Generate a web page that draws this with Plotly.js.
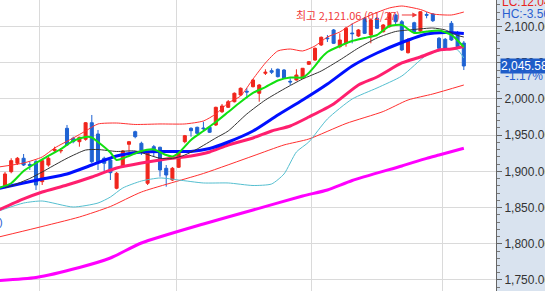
<!DOCTYPE html>
<html><head><meta charset="utf-8">
<script src="https://cdn.plot.ly/plotly-3.0.1.min.js"></script>
<style>html,body{margin:0;padding:0;background:#fff;overflow:hidden}#chart{width:545px;height:291px;}</style>
</head><body><div id="chart"></div>
<script>
// ---- candle data (index = trading day) ----
const openV  = [1879.8,1899.6,1911.2,1918.1,1909.5,1913.4,1885.8,1908.8,1928.6,1928.2,1959.5,1945.7,1941.0,1944.3,1967.2,1951.6,1918.1,1915.7,1876.7,1907.4,1937.4,1954.8,1938.8,1883.6,1934.1,1933.3,1904.3,1888.1,1905.7,1941.0,1959.5,1960.9,1959.9,1960.9,1964.1,1982.4,1988.5,1996.2,2005.5,2010.6,2017.0,2007.9,2035.5,2039.1,2041.0,2040.0,2024.4,2026.2,2028.6,2047.9,2053.8,2074.6,2084.2,2095.3,2072.2,2076.9,2091.1,2087.0,2111.4,2088.4,2111.4,2092.9,2099.8,2116.0,2106.7,2063.9,2105.3,2093.9,2116.7,2117.4,2083.8,2082.4,2104.5,2090.7,2077.3];
const highV  = [1899.2,1918.1,1919.9,1924.0,1913.4,1915.7,1915.7,1920.3,1934.1,1931.9,1964.1,1947.9,1947.9,1968.2,1977.9,1957.2,1920.3,1918.1,1899.2,1929.5,1942.0,1956.2,1941.0,1925.4,1936.5,1934.1,1908.8,1906.1,1929.5,1950.3,1960.9,1961.7,1968.6,1962.7,1989.3,1993.1,1998.6,2009.0,2015.9,2015.2,2027.6,2020.7,2041.0,2042.4,2042.1,2041.4,2028.6,2041.0,2042.8,2052.5,2071.1,2086.3,2088.4,2096.6,2090.7,2099.8,2104.5,2096.6,2113.2,2111.4,2113.2,2103.6,2120.1,2118.0,2109.1,2084.2,2106.7,2121.06,2120.0,2118.7,2085.6,2084.2,2107.7,2093.9,2080.1];
const lowV   = [1877.1,1897.4,1908.8,1907.4,1901.9,1874.3,1881.2,1906.5,1925.8,1925.0,1935.1,1938.8,1934.1,1942.4,1911.2,1901.9,1899.6,1888.1,1875.3,1904.7,1926.8,1945.7,1922.6,1881.2,1920.3,1892.7,1878.9,1886.7,1904.7,1938.8,1947.9,1951.6,1954.8,1953.0,1962.7,1980.6,1987.6,1995.2,2004.1,2000.9,2015.9,1996.2,2033.1,2034.5,2029.7,2027.6,2019.3,2025.5,2027.6,2046.9,2052.5,2073.2,2078.7,2075.9,2070.0,2072.2,2076.9,2085.6,2089.7,2076.9,2096.6,2091.8,2098.7,2102.2,2066.3,2062.8,2090.7,2092.5,2111.4,2106.3,2067.7,2069.0,2080.1,2071.1,2040.0];
const closeV = [1896.4,1914.8,1918.1,1908.8,1908.1,1881.2,1914.8,1918.1,1930.5,1929.1,1936.5,1941.0,1947.1,1967.2,1913.4,1913.4,1911.2,1898.2,1897.4,1928.2,1941.0,1947.9,1929.5,1925.0,1926.4,1901.9,1895.0,1904.3,1928.6,1949.3,1956.2,1952.6,1959.0,1954.0,1988.5,1990.3,1996.2,2007.9,2014.8,2009.6,2026.2,2019.3,2036.9,2036.9,2030.8,2028.6,2023.5,2033.1,2042.4,2051.5,2070.0,2085.2,2083.3,2076.9,2081.5,2097.6,2090.2,2095.3,2090.7,2109.1,2097.6,2102.2,2118.3,2106.7,2067.7,2081.5,2092.9,2120.5,2115.7,2108.1,2070.0,2070.0,2081.5,2072.2,2045.58];

// ---- indicator lines (index, value) ----
const ma5X = [-1,1,3,5,7,9,11,13,14,15,17,18,20,22,24,26,27,28,30,32,34,36,38,40,42,44,46,48,49,50,51,52,54,56,58,60,62,64,66,68,70,72,74];
const ma5Y = [1877.1,1883.6,1900.5,1911.6,1921.3,1930.9,1942.0,1947.5,1946.8,1940.6,1926.1,1915.7,1921.3,1928.2,1930.2,1922.6,1920.6,1925.4,1943.4,1955.8,1968.2,1982.0,1995.8,2008.3,2016.5,2025.5,2029.7,2029.7,2035.9,2045.6,2056.6,2064.9,2073.2,2080.1,2084.2,2088.4,2100.8,2102.2,2091.1,2093.2,2094.6,2088.4,2071.8];
const ma10X = [0,1,4,6,10,13,15,18,21,25,27,29,31,34,36,39,42,45,48,51,54,57,60,63,66,69,71,73,74];
const ma10Y = [1877.5,1879.8,1890.2,1899.2,1918.1,1929.5,1930.2,1927.5,1928.2,1918.1,1917.8,1922.6,1930.9,1946.1,1955.8,1979.3,1998.6,2013.8,2027.6,2038.6,2053.8,2070.4,2084.2,2093.2,2096.0,2098.0,2095.3,2087.7,2085.6];
const ma20X = [-1,3,6,10,14,18,22,26,30,33,36,40,44,48,52,56,60,64,68,71,74];
const ma20Y = [1876.4,1884.0,1889.5,1896.4,1908.8,1921.3,1926.8,1927.5,1927.5,1931.6,1940.6,1955.8,1977.9,1998.6,2020.7,2045.6,2063.5,2078.0,2089.7,2091.8,2090.4];
const ma60X = [-1,3,6,10,14,18,22,26,30,33,36,40,43,46,49,53,57,60,64,67,70,72,74];
const ma60Y = [1846.7,1861.9,1871.5,1881.2,1892.3,1904.7,1911.6,1917.1,1921.3,1926.8,1936.5,1946.1,1955.8,1962.7,1975.1,1993.1,2019.3,2030.4,2049.7,2058.0,2067.7,2069.0,2072.5];
const ma120X = [-1,5,12,17,22,32,40,45,49,55,61,65,69,74];
const ma120Y = [1809.4,1821.8,1837.0,1851.5,1871.5,1897.1,1921.3,1936.5,1944.7,1966.1,1982.7,1998.6,2006.9,2019.3];
const ma240X = [-1,5,12,17,22,32,40,48,52,56,64,68,70,74];
const ma240Y = [1749.3,1753.5,1767.3,1780.4,1801.1,1827.4,1846.7,1866.0,1874.3,1887.4,1907.5,1918.0,1922.6,1931.9];
const upperX = [-1,3,6,8,11,13,15,18,21,25,29,32,34,36,38,40,42,44,46,48,50,52,54,56,59,62,64,67,69,72,74];
const upperY = [1906.1,1911.6,1919.9,1932.3,1946.1,1955.8,1965.5,1966.8,1964.8,1965.5,1965.5,1969.6,1979.3,1994.5,2004.1,2027.6,2049.7,2066.3,2069.0,2066.3,2073.2,2085.6,2092.5,2103.6,2116.0,2125.7,2128.4,2123.6,2117.4,2116.0,2120.1];
const lowerX = [-1,3,6,11,15,17,19,22,25,28,32,36,40,43,45,47,49,52,56,60,64,68,70,72,73,74];
const lowerY = [1845.3,1856.3,1859.1,1850.8,1856.3,1864.6,1877.1,1886.7,1890.9,1888.1,1884.0,1884.0,1880.5,1882.6,1896.4,1926.8,1940.6,1972.4,2000.0,2015.2,2031.7,2060.7,2066.3,2069.0,2067.7,2056.6];

const monthGrid = [5.5,27.6,49.5,70.5];
const yTicks = [1750,1800,1850,1900,1950,2000,2050,2100];

const highLabel = '최고 2,121.06 (01/27)';
const lcLabel = 'LC:12.04';
const hcLabel = 'HC:-3.56';
const lastPriceLabel = '2,045.58';
const changeLabel = '-1.17%';
const sideLabel = '4)';

const xIdx = openV.map((_, i) => i);
const lastIdx = xIdx[xIdx.length - 1];
const lastClose = closeV[closeV.length - 1];
const highIdx = highV.indexOf(Math.max(...highV));

function line(x, y, color, width) {
  return {type:'scatter', mode:'lines', x:x, y:y, hoverinfo:'skip', showlegend:false,
          line:{color:color, width:width, shape:'spline', smoothing:0.6}};
}

const traces = [
  line(ma240X, ma240Y, '#ff00ff', 3),
  line(ma120X, ma120Y, '#ff3030', 1),
  line(lowerX, lowerY, '#55bfd0', 1),
  line(upperX, upperY, '#ff3030', 1),
  line(ma60X, ma60Y, '#ff1f6e', 3),
  line(ma20X, ma20Y, '#0010ff', 3),
  line(ma10X, ma10Y, '#333333', 1),
  line(ma5X, ma5Y, '#11e011', 2),
  {type:'candlestick', x:xIdx, open:openV, high:highV, low:lowV, close:closeV,
   showlegend:false, hoverinfo:'skip',
   increasing:{line:{color:'#f0251c', width:1}, fillcolor:'#f0251c'},
   decreasing:{line:{color:'#1f63d3', width:1}, fillcolor:'#1f63d3'}}
];

const W = 496, H = 291;
const layout = {
  width:545, height:291,
  margin:{l:0, r:49, t:0, b:0, pad:0},
  paper_bgcolor:'#d9e3ef',
  plot_bgcolor:'#ffffff',
  font:{family:'Liberation Sans, Noto Sans CJK KR, sans-serif', size:12, color:'#333'},
  showlegend:false,
  boxgap:0.3,
  xaxis:{range:[-0.806, 79.19], tickvals:monthGrid, showticklabels:false, ticks:'',
         showgrid:true, gridcolor:'#dadada', gridwidth:1, zeroline:false, showline:false,
         rangeslider:{visible:false}, fixedrange:true},
  yaxis:{side:'right', range:[1734.8, 2136.7], tickvals:yTicks, tickformat:',.2f',
         showgrid:true, gridcolor:'#dadada', gridwidth:1, zeroline:false,
         showline:true, linecolor:'#666', linewidth:1,
         ticks:'outside', ticklen:5, tickcolor:'#666',
         minor:{dtick:10, ticks:'outside', ticklen:3, tickcolor:'#777', showgrid:false},
         tickfont:{size:12, color:'#333'}, automargin:false, fixedrange:true},
  annotations:[
    {xref:'x', yref:'y', x:highIdx - 0.5, y:2116.0, text:highLabel, showarrow:true,
     ax:-69, ay:0, arrowhead:2, arrowsize:1, arrowwidth:1, arrowcolor:'#f03a3a', standoff:0,
     font:{family:'Noto Sans CJK KR, Liberation Sans', size:11, color:'#f03a3a'}},
    {xref:'paper', yref:'paper', x:500/W, y:1-2/H, xanchor:'left', yanchor:'middle', showarrow:false,
     text:lcLabel, font:{size:12, color:'#e8241c'}},
    {xref:'paper', yref:'paper', x:500/W, y:1-13.5/H, xanchor:'left', yanchor:'middle', showarrow:false,
     text:hcLabel, font:{size:12, color:'#2a5fd0'}},
    {xref:'paper', yref:'y', x:500/W, y:lastClose, xanchor:'left', yanchor:'middle', showarrow:false,
     text:lastPriceLabel, bgcolor:'#1e5cc8', borderpad:0, font:{size:12, color:'#ffffff'}},
    {xref:'paper', yref:'paper', x:503/W, y:1-76/H, xanchor:'left', yanchor:'middle', showarrow:false,
     text:changeLabel, font:{size:12, color:'#2a5fd0'}},
    {xref:'paper', yref:'paper', x:5/W, y:1-222/H, xanchor:'right', yanchor:'middle', showarrow:false,
     text:sideLabel, font:{size:11, color:'#2a5fd0'}}
  ]
};

Plotly.newPlot('chart', traces, layout, {staticPlot:true, displayModeBar:false});
</script>
</body></html>
